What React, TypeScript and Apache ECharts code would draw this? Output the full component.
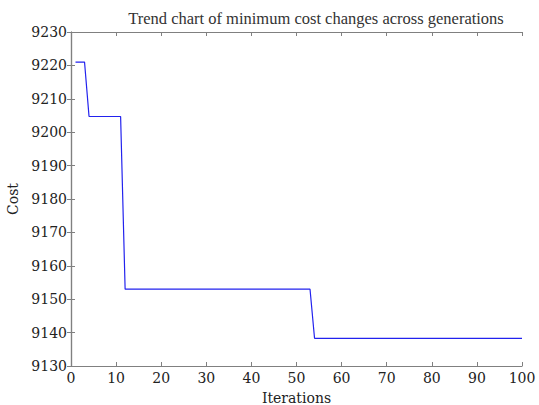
import React, { useEffect, useRef } from "react";
import * as echarts from "echarts";

const iterations = [1, 3, 4, 11, 12, 53, 54, 100];
const cost = [9221, 9221, 9204.7, 9204.7, 9153, 9153, 9138.3, 9138.3];
const titleText = "Trend chart of minimum cost changes across generations";
const xName = "Iterations";
const yName = "Cost";

const FONT = "DejaVu Serif";

export default function App() {
  const ref = useRef<HTMLDivElement>(null);
  useEffect(() => {
    if (!ref.current) return;
    const chart = echarts.init(ref.current, null, { renderer: "svg" });
    const axisLine = { show: true, lineStyle: { color: "#808080", width: 1.2 } };
    const tick = { show: true, inside: true, length: 4, lineStyle: { color: "#808080" } };
    const label = { color: "#222", fontFamily: FONT, fontSize: 14 };
    chart.setOption({
      animation: false,
      backgroundColor: "#fff",
      title: {
        text: titleText,
        left: 311,
        textAlign: "center",
        top: 5,
        textStyle: { fontFamily: "Liberation Serif", fontSize: 16.5, fontWeight: "normal", color: "#333" },
      },
      grid: { left: 71, top: 32, right: 17, bottom: 39, containLabel: false, outerBoundsMode: "none" },
      xAxis: [
        {
          type: "value",
          min: 0,
          max: 100,
          interval: 10,
          name: xName,
          nameLocation: "middle",
          nameGap: 25,
          nameTextStyle: { fontFamily: FONT, fontSize: 14, color: "#222" },
          axisLine,
          axisTick: tick,
          axisLabel: { ...label, margin: 5, formatter: (v: number) => String(v) },
          splitLine: { show: false },
        },
        {
          type: "value",
          position: "top",
          min: 0,
          max: 100,
          interval: 10,
          axisLine,
          axisTick: tick,
          axisLabel: { show: false },
          splitLine: { show: false },
        },
      ],
      yAxis: [
        {
          type: "value",
          min: 9130,
          max: 9230,
          interval: 10,
          name: yName,
          nameLocation: "middle",
          nameGap: 50,
          nameRotate: 90,
          nameTextStyle: { fontFamily: FONT, fontSize: 14, color: "#222" },
          axisLine,
          axisTick: tick,
          axisLabel: { ...label, margin: 4, formatter: (v: number) => String(v) },
          splitLine: { show: false },
        },
        {
          type: "value",
          position: "right",
          min: 9130,
          max: 9230,
          interval: 10,
          axisLine,
          axisTick: tick,
          axisLabel: { show: false },
          splitLine: { show: false },
        },
      ],
      series: [
        {
          type: "line",
          data: iterations.map((x, i) => [x, cost[i]]),
          showSymbol: false,
          lineStyle: { color: "#2222ee", width: 1.2 },
        },
      ],
    });
    return () => chart.dispose();
  }, []);
  return <div ref={ref} style={{ width: 539, height: 405, position: "absolute", left: 0, top: 0 }} />;
}
